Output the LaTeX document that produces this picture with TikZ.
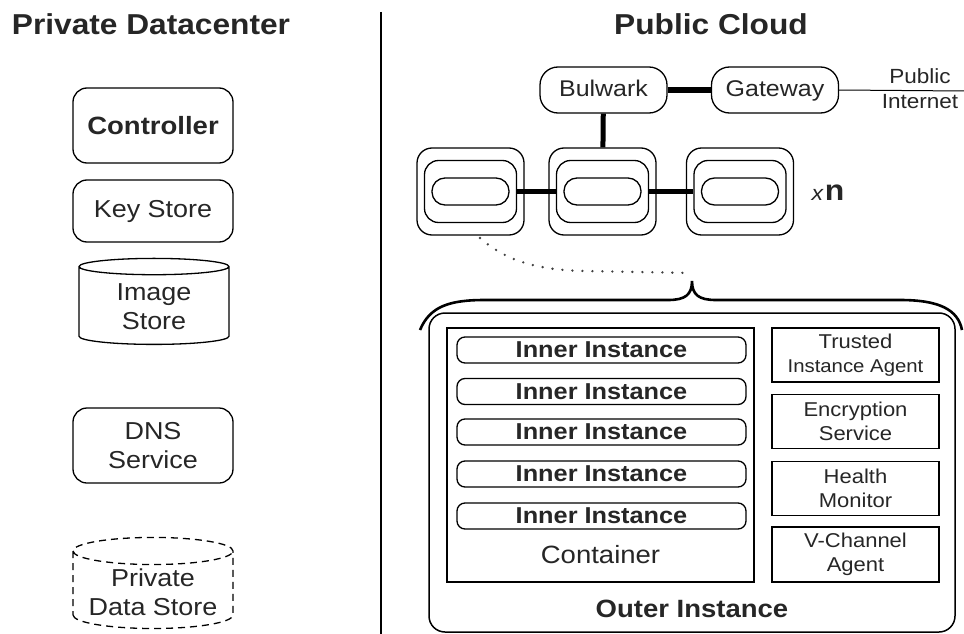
\documentclass[tikz,border=0pt]{standalone}
\usepackage{fontspec}
\setmainfont{Liberation Sans}[FakeStretch=1.1]
\usepackage{tikz}
\usetikzlibrary{shapes.geometric}

\newcommand{\fsz}[2]{\fontsize{#1}{#2}\selectfont}

\begin{document}
\begin{tikzpicture}[x=1pt,y=-1pt,line width=1.3pt,text=black!85,
    title/.style={font=\bfseries\fsz{28.8}{34}},
    dc box/.style={draw,rounded corners=14pt,minimum width=160pt,align=center,font=\fsz{24.5}{29}},
    store/.style={draw,cylinder,shape border rotate=90,aspect=0.2,align=center,font=\fsz{24.5}{29}},
    pill/.style={draw,rounded corners=18pt,minimum width=127pt,minimum height=46pt,text height=17pt,text depth=5pt,font=\fsz{22.7}{26}},
    link/.style={line width=6pt},
    ring outer/.style={draw,rounded corners=15pt,minimum width=107pt,minimum height=87pt},
    ring mid/.style={draw,rounded corners=14pt,minimum width=92pt,minimum height=62pt},
    ring inner/.style={draw,rounded corners=13pt,minimum width=77pt,minimum height=27pt},
    inner inst/.style={draw,rounded corners=8pt,minimum width=289pt,minimum height=26pt,inner sep=0pt,font=\bfseries\fsz{23}{26}},
    agent box/.style={draw,minimum width=167pt,minimum height=54pt,align=center,inner sep=2pt,font=\fsz{20}{24}}]
    \useasboundingbox (0,0) rectangle (964,634);

    % the two sides
    \node[title] (pdc) at (151,24) {Private Datacenter};
    \node[title] (pcl) at (711,24) {Public Cloud};
    \coordinate (div top) at (381,12);
    \coordinate (div bot) at (381,634);
    \draw (div top) -- (div bot);

    % private datacenter
    \node[dc box,minimum height=75pt,font=\bfseries\fsz{25}{29}] (ctrl) at (153,125.5) {Controller};
    \node[dc box,minimum height=62pt] (keys) at (153,211) {Key Store};
    \node[store,minimum width=150pt,minimum height=86pt] (imgs) at (154,307) {Image\\Store};
    \node[dc box,minimum height=75pt] (dns) at (153,445.5) {DNS\\Service};
    \node[store,dash pattern=on 7pt off 5pt,minimum width=160pt,minimum height=86pt] (pds) at (153,592) {Private\\Data Store};

    % public cloud, front end
    \node[pill] (bulw) at (603.5,90) {Bulwark};
    \node[pill] (gate) at (775,90) {Gateway};
    \node[align=center,font=\fsz{20.5}{25}] (inet) at (920,89) {Public\\Internet};
    \coordinate (inet end) at (964,91);
    \draw[link] (bulw) -- (gate);
    \draw[line width=1pt] (gate.east) -- (inet end);

    % instances
    \node[ring outer] (g1o) at (470.5,191.5) {};
    \node[ring mid] (g1m) at (470.5,191.5) {};
    \node[ring inner] (g1i) at (470.5,191.5) {};
    \node[ring outer] (g2o) at (602.5,191.5) {};
    \node[ring mid] (g2m) at (602.5,191.5) {};
    \node[ring inner] (g2i) at (602.5,191.5) {};
    \node[ring outer] (g3o) at (740,191.5) {};
    \node[ring mid] (g3m) at (740,191.5) {};
    \node[ring inner] (g3i) at (740,191.5) {};
    \node[anchor=base] (xn) at (828,200) {{\itshape\fsz{21}{21}x}\,{\bfseries\fsz{29}{29}n}};
    \draw[link,line width=5pt] (bulw) -- (g2o);
    \draw[link,line width=5pt] (g1m) -- (g2m);
    \draw[link,line width=5pt] (g2m) -- (g3m);

    % zoom into one instance
    \coordinate (tip) at (692,281);
    \coordinate (zoom start) at (480,238);
    \draw[line cap=round,dash pattern=on 0pt off 10pt,line width=2.6pt,black!75]
        (zoom start) .. controls (505,260) and (535,270) .. (585,271) -- (692,273);
    \draw[line width=2.6pt]
        (420,330) .. controls (430,306) and (450,300) .. (485,300) -- (668,300)
        .. controls (685,300) and (692,295) .. (tip)
        .. controls (692,295) and (699,300) .. (716,300) -- (900,300)
        .. controls (940,300) and (958,310) .. (962,330);

    \node[draw,rounded corners=16pt,minimum width=526pt,minimum height=319pt,line width=1.5pt] (outer) at (692,472.5) {};
    \node[font=\bfseries\fsz{25}{29}] (outer lbl) at (692,609) {Outer Instance};
    \node[draw,minimum width=307pt,minimum height=254pt] (cont) at (600.5,455) {};
    \node[font=\fsz{25}{29}] (cont lbl) at (600.5,555) {Container};
    \node[inner inst] (ii1) at (601.5,350) {Inner Instance};
    \node[inner inst] (ii2) at (601.5,391.5) {Inner Instance};
    \node[inner inst] (ii3) at (601.5,432) {Inner Instance};
    \node[inner inst] (ii4) at (601.5,474) {Inner Instance};
    \node[inner inst] (ii5) at (601.5,516) {Inner Instance};

    \node[agent box] (tia) at (855.5,355) {Trusted\\{\fsz{18.5}{22}Instance Agent}};
    \node[agent box] (enc) at (855.5,421.5) {Encryption\\Service};
    \node[agent box] (hmon) at (855.5,488.5) {Health\\Monitor};
    \node[agent box,minimum height=55pt] (vch) at (855.5,554.5) {V-Channel\\Agent};
\end{tikzpicture}
\end{document}
